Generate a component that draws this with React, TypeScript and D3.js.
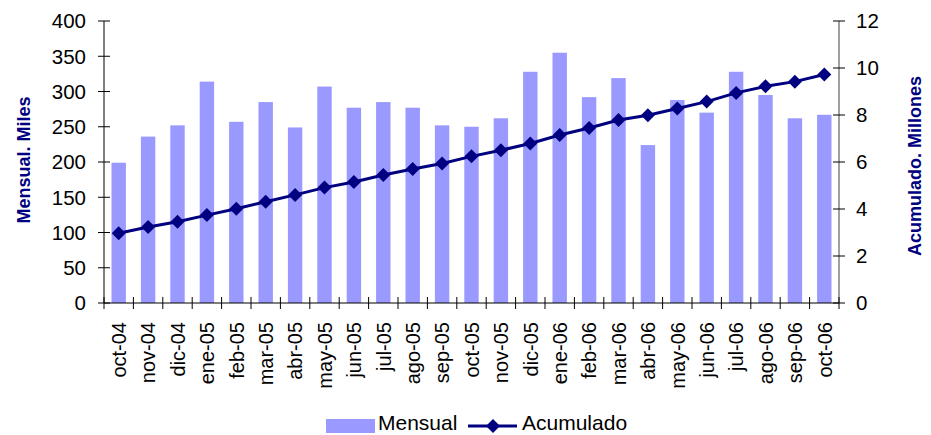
import React from "react";
import * as d3 from "d3";

const categories = [
  "oct-04", "nov-04", "dic-04", "ene-05", "feb-05", "mar-05", "abr-05", "may-05",
  "jun-05", "jul-05", "ago-05", "sep-05", "oct-05", "nov-05", "dic-05", "ene-06",
  "feb-06", "mar-06", "abr-06", "may-06", "jun-06", "jul-06", "ago-06", "sep-06", "oct-06",
];
const mensual = [
  199, 236, 252, 314, 257, 285, 249, 307, 277, 285, 277, 252, 250, 262, 328, 355,
  292, 319, 224, 288, 270, 328, 295, 262, 267,
];
const acumulado = [
  2.97, 3.23, 3.46, 3.74, 4.01, 4.31, 4.6, 4.91, 5.15, 5.45, 5.7, 5.94, 6.24, 6.5,
  6.79, 7.15, 7.45, 7.79, 7.99, 8.28, 8.57, 8.94, 9.22, 9.42, 9.72,
];
const leftTicks = [0, 50, 100, 150, 200, 250, 300, 350, 400];
const rightTicks = [0, 2, 4, 6, 8, 10, 12];

const W = 931;
const H = 435;
const X0 = 104;
const X1 = 839;
const YT = 21;
const YB = 303;
const BAR = "#9999FF";
const NAVY = "#000080";
const FONT = "Arial, 'Liberation Sans', sans-serif";

export default function App() {
  const x = d3.scaleBand<string>().domain(categories).range([X0, X1]).paddingInner(0).paddingOuter(0);
  const yL = d3.scaleLinear().domain([0, 400]).range([YB, YT]);
  const yR = d3.scaleLinear().domain([0, 12]).range([YB, YT]);
  const bw = x.bandwidth() * 0.49;
  const cx = (c: string) => (x(c) as number) + x.bandwidth() / 2;
  const line = d3
    .line<number>()
    .x((_, i) => cx(categories[i]))
    .y((d) => yR(d));
  const diamond = (px: number, py: number, r: number) =>
    `M${px},${py - r}L${px + r},${py}L${px},${py + r}L${px - r},${py}Z`;

  const boundaries = categories.map((c) => x(c) as number).concat([X1]);

  return (
    <svg
      width={W}
      height={H}
      style={{ position: "absolute", left: 0, top: 0, background: "#fff" }}
      fontFamily={FONT}
    >
      <rect x={0} y={0} width={W} height={H} fill="#fff" />
      {/* bars */}
      {categories.map((c, i) => (
        <rect
          key={c}
          x={cx(c) - bw / 2}
          y={yL(mensual[i])}
          width={bw}
          height={YB - yL(mensual[i])}
          fill={BAR}
        />
      ))}
      {/* left axis */}
      <line x1={X0} x2={X0} y1={YT} y2={YB} stroke="#000" strokeWidth={1} />
      {leftTicks.map((t) => (
        <g key={"l" + t}>
          <line x1={X0 - 6} x2={X0 + 6} y1={yL(t)} y2={yL(t)} stroke="#000" />
          <text x={86} y={yL(t)} dy="0.36em" textAnchor="end" fontSize={20.5} fill="#000">
            {t}
          </text>
        </g>
      ))}
      {/* right axis */}
      <line x1={X1} x2={X1} y1={YT} y2={YB} stroke="#808080" strokeWidth={1.5} />
      {rightTicks.map((t) => (
        <g key={"r" + t}>
          <line x1={X1 - 6} x2={X1 + 6} y1={yR(t)} y2={yR(t)} stroke="#000" />
          <text x={856} y={yR(t)} dy="0.36em" textAnchor="start" fontSize={20.5} fill="#000">
            {t}
          </text>
        </g>
      ))}
      {/* x axis */}
      <line x1={X0} x2={X1} y1={YB} y2={YB} stroke="#000" />
      {boundaries.map((b, i) => (
        <line key={"xt" + i} x1={b} x2={b} y1={YB - 6} y2={YB + 6} stroke="#000" />
      ))}
      {categories.map((c) => (
        <text
          key={"xl" + c}
          transform={`translate(${cx(c)},322) rotate(-90)`}
          dy="0.36em"
          textAnchor="end"
          fontSize={20}
          fill="#000"
        >
          {c}
        </text>
      ))}
      {/* line series */}
      <path d={line(acumulado) || ""} fill="none" stroke={NAVY} strokeWidth={3} />
      {acumulado.map((v, i) => (
        <path key={"m" + i} d={diamond(cx(categories[i]), yR(v), 7)} fill={NAVY} />
      ))}
      {/* axis titles */}
      <text
        transform={`translate(24,160) rotate(-90)`}
        dy="0.36em"
        textAnchor="middle"
        fontSize={18}
        fontWeight="bold"
        fill={NAVY}
      >
        Mensual. Miles
      </text>
      <text
        transform={`translate(915,166) rotate(-90)`}
        dy="0.36em"
        textAnchor="middle"
        fontSize={18}
        fontWeight="bold"
        fill={NAVY}
      >
        Acumulado. Millones
      </text>
      {/* legend */}
      <rect x={326} y={419} width={49} height={14} fill={BAR} />
      <text x={378} y={429.5} fontSize={21} fill="#000">
        Mensual
      </text>
      <line x1={468} x2={517} y1={426} y2={426} stroke={NAVY} strokeWidth={3} />
      <path d={diamond(493, 426, 7)} fill={NAVY} />
      <text x={522} y={429.5} fontSize={21} fill="#000">
        Acumulado
      </text>
    </svg>
  );
}
